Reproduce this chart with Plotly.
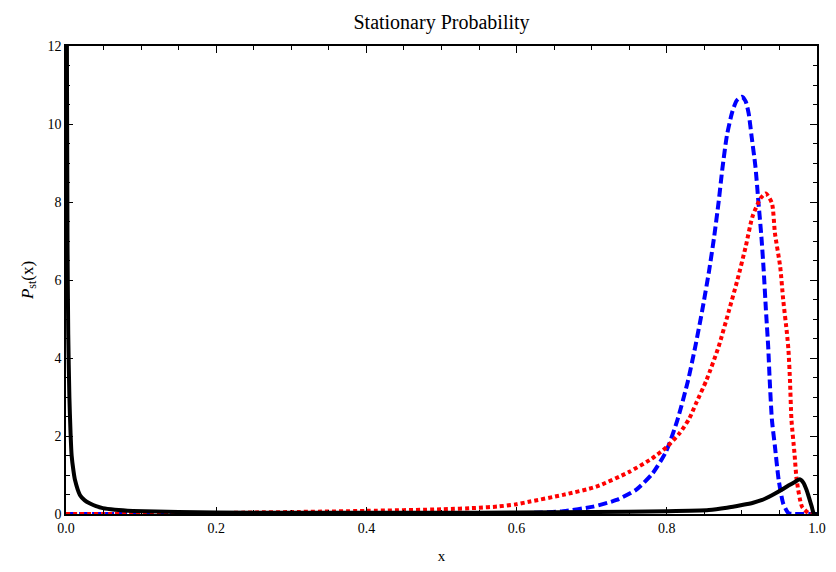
import plotly.graph_objects as go

# Stationary probability densities P_st(x) for three parameter sets
blue_x = [0.0, 0.3, 0.5, 0.58, 0.623, 0.662, 0.702, 0.733, 0.759, 0.781, 0.799,
          0.814, 0.828, 0.838, 0.847, 0.856, 0.863, 0.869, 0.874, 0.880, 0.887,
          0.893, 0.900, 0.905, 0.909, 0.913, 0.918, 0.922, 0.926, 0.929, 0.932,
          0.935, 0.937, 0.940, 0.944, 0.949, 0.955, 0.962, 0.970, 1.0]
blue_y = [0.0, 0.0, 0.0, 0.005, 0.03, 0.07, 0.19, 0.36, 0.62, 1.04, 1.6,
          2.4, 3.4, 4.3, 5.2, 6.2, 7.1, 8.0, 8.85, 9.7, 10.3,
          10.6, 10.7, 10.58, 10.27, 9.67, 8.91, 8.0, 7.1, 6.25, 5.23,
          4.29, 3.44, 2.41, 1.73, 0.87, 0.27, 0.02, 0.0, 0.0]

red_x = [0.0, 0.1, 0.2, 0.25, 0.3, 0.4, 0.5, 0.55, 0.574, 0.6, 0.618, 0.662,
         0.706, 0.75, 0.78, 0.80, 0.817, 0.83, 0.839, 0.853, 0.869, 0.883,
         0.894, 0.905, 0.914, 0.925, 0.932, 0.940, 0.944, 0.951, 0.955, 0.960,
         0.962, 0.964, 0.966, 0.970, 0.973, 0.980, 0.989, 1.0]
red_y = [0.0, 0.0, 0.02, 0.04, 0.05, 0.08, 0.12, 0.16, 0.19, 0.25, 0.32, 0.49,
         0.70, 1.08, 1.42, 1.72, 2.07, 2.45, 2.84, 3.44, 4.29, 5.23,
         6.0, 6.85, 7.62, 8.1, 8.22, 7.97, 7.2, 6.34, 5.49, 4.63,
         4.2, 3.44, 2.41, 1.56, 0.87, 0.19, 0.02, 0.0]

black_x = [0.0002, 0.001, 0.002, 0.003, 0.0045, 0.006, 0.0075, 0.01, 0.012,
           0.0185, 0.025, 0.032, 0.04, 0.049, 0.065, 0.089, 0.15, 0.2, 0.3,
           0.4, 0.5, 0.6, 0.7, 0.8, 0.856, 0.88, 0.9, 0.915, 0.927, 0.94,
           0.953, 0.962, 0.971, 0.977, 0.982, 0.986, 0.993, 0.996, 1.0]
black_y = [40.0, 14.0, 7.0, 4.6, 3.0, 2.1, 1.5, 1.1, 0.87,
           0.49, 0.35, 0.27, 0.2, 0.15, 0.11, 0.08, 0.05, 0.04, 0.03,
           0.03, 0.03, 0.04, 0.05, 0.07, 0.1, 0.16, 0.23, 0.29, 0.36, 0.48,
           0.62, 0.73, 0.83, 0.89, 0.8, 0.62, 0.19, 0.0, 0.0]

x_ticks = [0.0, 0.2, 0.4, 0.6, 0.8, 1.0]
x_tick_labels = ["0.0", "0.2", "0.4", "0.6", "0.8", "1.0"]
y_ticks = [0, 2, 4, 6, 8, 10, 12]

fig = go.Figure()
fig.add_trace(go.Scatter(x=blue_x, y=blue_y, mode="lines",
                         line=dict(color="#0000ff", width=4, dash="9px,4px",
                                   shape="spline", smoothing=0.6),
                         showlegend=False))
fig.add_trace(go.Scatter(x=red_x, y=red_y, mode="lines",
                         line=dict(color="#ff0000", width=4, dash="4px,3px",
                                   shape="spline", smoothing=0.6),
                         showlegend=False))
fig.add_trace(go.Scatter(x=black_x, y=black_y, mode="lines",
                         line=dict(color="#000000", width=4,
                                   shape="spline", smoothing=0.6),
                         showlegend=False))

serif = "Liberation Serif, Times New Roman, serif"
axis_common = dict(
    showline=True, linecolor="black", linewidth=1.5, mirror="ticks",
    ticks="inside", ticklen=7, tickwidth=1.2, tickcolor="black",
    showgrid=False, zeroline=False,
    tickfont=dict(family=serif, size=14, color="black"),
)

fig.update_layout(
    width=836, height=572,
    margin=dict(l=66, r=10, t=46, b=58),
    paper_bgcolor="white", plot_bgcolor="white",
    title=dict(text="Stationary Probability", x=0.5, xref="paper",
               xanchor="center", y=0.962, yanchor="middle",
               font=dict(family=serif, size=20, color="black")),
    xaxis=dict(range=[0, 1], tickvals=x_ticks, ticktext=x_tick_labels,
               title=dict(text="x", font=dict(family=serif, size=15, color="black"),
                          standoff=16),
               minor=dict(dtick=0.05, ticks="inside", ticklen=4,
                          tickcolor="black", tickwidth=1),
               **axis_common),
    yaxis=dict(range=[0, 12], tickvals=y_ticks,
               title=dict(text="<i>P</i><sub>st</sub>(x)",
                          font=dict(family=serif, size=17, color="black"),
                          standoff=10),
               minor=dict(dtick=0.5, ticks="inside", ticklen=4,
                          tickcolor="black", tickwidth=1),
               **axis_common),
)

fig.write_html("out.html")
